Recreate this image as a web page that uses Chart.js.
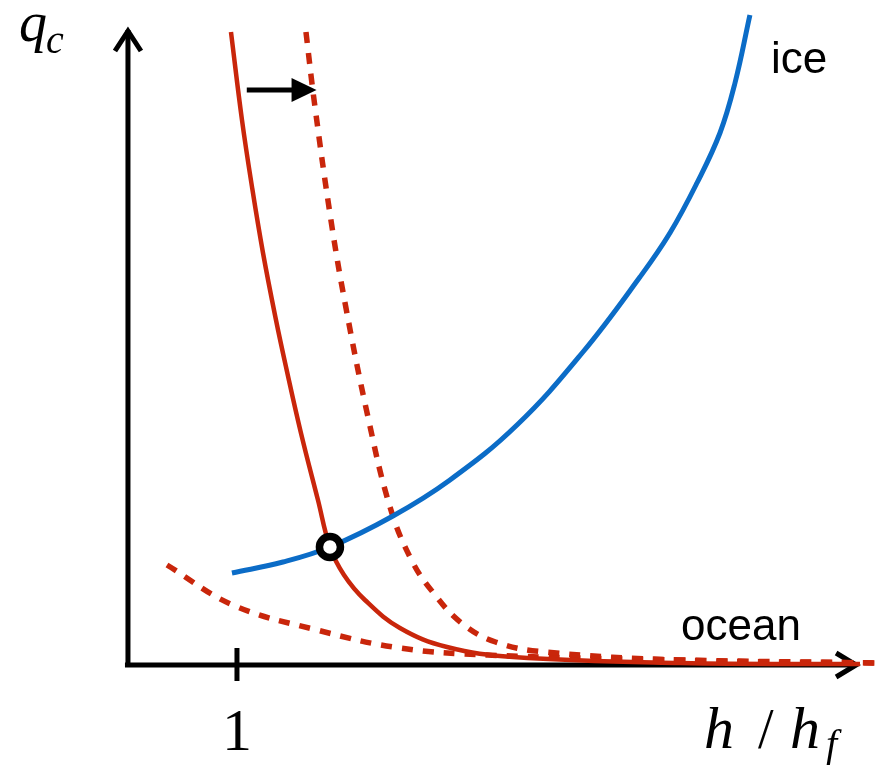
<!DOCTYPE html>
<html>
<head>
<meta charset="utf-8">
<script src="https://cdn.jsdelivr.net/npm/chart.js@4.4.1/dist/chart.umd.min.js"></script>
<style>
  body { margin: 0; background: #fff; }
  canvas { display: block; }
</style>
</head>
<body>
<canvas id="myChart" width="878" height="765"></canvas>
<script>
// h / h_f on x, q_c on y (arbitrary units)
const iceH = [0.954, 1.422, 1.853, 2.431, 2.954, 3.569, 4.174, 4.697, 4.972, 5.220, 5.431, 5.569, 5.706];
const iceQ = [0.92, 1.03, 1.18, 1.49, 1.85, 2.40, 3.13, 3.88, 4.32, 4.82, 5.32, 5.82, 6.50];

const meltH = [0.945, 1.046, 1.138, 1.239, 1.358, 1.450, 1.587, 1.743, 1.853, 1.982, 2.174, 2.495, 2.927, 3.532, 5.064, 6.716];
const meltQ = [6.33, 5.45, 4.78, 4.12, 3.45, 2.98, 2.32, 1.65, 1.18, 0.90, 0.65, 0.37, 0.18, 0.08, 0.02, 0.01];

const shiftH = [1.633, 1.711, 1.862, 1.995, 2.202, 2.404, 2.601, 2.803, 3.060, 3.372, 3.830, 5.064, 6.881];
const shiftQ = [6.33, 5.62, 4.45, 3.60, 2.48, 1.58, 1.05, 0.72, 0.42, 0.23, 0.13, 0.05, 0.02];

const oceanH = [0.358, 0.963, 1.734, 2.495, 3.300, 5.064, 6.881];
const oceanQ = [1.00, 0.60, 0.35, 0.17, 0.10, 0.05, 0.02];

const eqH = [1.853];
const eqQ = [1.18];

const xTicks = [1];
const xTickLabels = ['1'];

const xMin = -1.174, xMax = 6.881;
const yMin = -1.0, yMax = 6.65;
const xAxisEnd = 6.68, yAxisEnd = 6.37;
const shiftArrow = { from: [1.09, 5.75], to: [1.73, 5.75] };

const red = '#c9260b';
const blue = '#0b6cc7';

function toPts(xs, ys) {
    return xs.map((x, i) => ({ x: x, y: ys[i] }));
}

const axesPlugin = {
    id: 'axes',
    beforeDatasetsDraw(chart) {
        const ctx = chart.ctx;
        const xs = chart.scales.x, ys = chart.scales.y;
        const x0 = xs.getPixelForValue(0), y0 = ys.getPixelForValue(0);
        const xe = xs.getPixelForValue(xAxisEnd), ye = ys.getPixelForValue(yAxisEnd);
        ctx.save();
        ctx.strokeStyle = '#000';
        ctx.lineWidth = 5;
        ctx.beginPath();
        ctx.moveTo(x0 - 3, y0);
        ctx.lineTo(xe - 2, y0);
        ctx.moveTo(x0, y0 + 2);
        ctx.lineTo(x0, ye + 2);
        ctx.stroke();
        // open arrow heads
        ctx.lineJoin = 'miter';
        ctx.beginPath();
        ctx.moveTo(x0 - 13, ye + 23);
        ctx.lineTo(x0, ye + 3);
        ctx.lineTo(x0 + 13, ye + 23);
        ctx.moveTo(xe - 20, y0 - 12);
        ctx.lineTo(xe, y0);
        ctx.lineTo(xe - 20, y0 + 12);
        ctx.stroke();
        // ticks
        xTicks.forEach(t => {
            const px = xs.getPixelForValue(t);
            ctx.beginPath();
            ctx.moveTo(px, y0 - 17);
            ctx.lineTo(px, y0 + 16);
            ctx.stroke();
        });
        ctx.restore();
    },
    afterDraw(chart) {
        const ctx = chart.ctx;
        const xs = chart.scales.x, ys = chart.scales.y;
        ctx.save();
        // shift arrow
        const ax1 = xs.getPixelForValue(shiftArrow.from[0]), ay = ys.getPixelForValue(shiftArrow.from[1]);
        const ax2 = xs.getPixelForValue(shiftArrow.to[0]);
        ctx.strokeStyle = '#000';
        ctx.fillStyle = '#000';
        ctx.lineWidth = 5;
        ctx.beginPath();
        ctx.moveTo(ax1, ay);
        ctx.lineTo(ax2 - 20, ay);
        ctx.stroke();
        ctx.beginPath();
        ctx.moveTo(ax2, ay);
        ctx.lineTo(ax2 - 25, ay - 12);
        ctx.lineTo(ax2 - 25, ay + 12);
        ctx.closePath();
        ctx.fill();

        // tick labels
        ctx.font = '60px "Liberation Serif"';
        ctx.textAlign = 'center';
        ctx.textBaseline = 'alphabetic';
        xTicks.forEach((t, i) => {
            ctx.fillText(xTickLabels[i], xs.getPixelForValue(t), 750);
        });

        // axis titles
        ctx.textAlign = 'left';
        ctx.font = 'italic 56px "Liberation Serif"';
        ctx.fillText('q', 19, 41);
        ctx.font = 'italic 40px "Liberation Serif"';
        ctx.fillText('c', 46, 53);

        ctx.font = 'italic 60px "Liberation Serif"';
        ctx.fillText('h', 704, 748);
        ctx.font = '56px "Liberation Serif"';
        ctx.fillText('/', 758, 748);
        ctx.font = 'italic 60px "Liberation Serif"';
        ctx.fillText('h', 790, 748);
        ctx.font = 'italic 40px "Liberation Serif"';
        ctx.fillText('f', 826, 757);

        // curve labels
        ctx.font = '44px "Liberation Sans"';
        ctx.fillText('ice', 771, 73);
        ctx.fillText('ocean', 681, 640);
        ctx.restore();
    }
};

const ctx = document.getElementById('myChart');

new Chart(ctx, {
    type: 'scatter',
    data: {
        datasets: [
            {
                label: 'equilibrium',
                data: toPts(eqH, eqQ),
                pointRadius: 10.5,
                pointBorderWidth: 7.5,
                pointBorderColor: '#000',
                pointBackgroundColor: '#fff',
                showLine: false,
                order: 0
            },
            {
                label: 'ice',
                data: toPts(iceH, iceQ),
                showLine: true,
                borderColor: blue,
                borderWidth: 5,
                pointRadius: 0,
                tension: 0.4,
                order: 1
            },
            {
                label: 'melt',
                data: toPts(meltH, meltQ),
                showLine: true,
                borderColor: red,
                borderWidth: 4.5,
                pointRadius: 0,
                tension: 0.4,
                order: 2
            },
            {
                label: 'melt shifted',
                data: toPts(shiftH, shiftQ),
                showLine: true,
                borderColor: red,
                borderWidth: 5.5,
                borderDash: [11, 10],
                pointRadius: 0,
                tension: 0.4,
                order: 3
            },
            {
                label: 'ocean',
                data: toPts(oceanH, oceanQ),
                showLine: true,
                borderColor: red,
                borderWidth: 5.5,
                borderDash: [11, 10],
                pointRadius: 0,
                tension: 0.4,
                order: 4
            }
        ]
    },
    options: {
        responsive: false,
        animation: false,
        layout: { padding: 0, autoPadding: false },
        plugins: {
            legend: { display: false },
            tooltip: { enabled: false }
        },
        scales: {
            x: { type: 'linear', min: xMin, max: xMax, display: false },
            y: { type: 'linear', min: yMin, max: yMax, display: false }
        }
    },
    plugins: [axesPlugin]
});
</script>
</body>
</html>
